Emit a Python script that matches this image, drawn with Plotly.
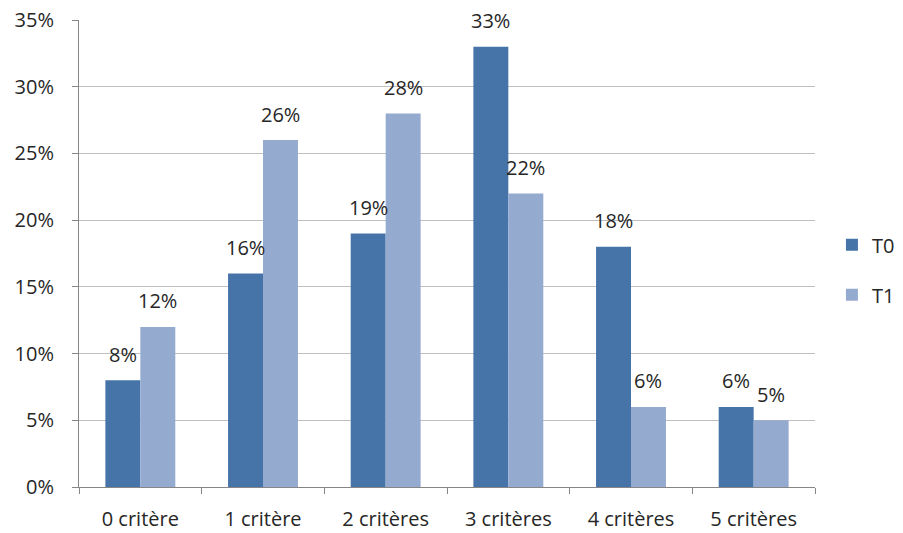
import plotly.graph_objects as go

categories = ["0 critère", "1 critère", "2 critères", "3 critères", "4 critères", "5 critères"]
t0_values = [8, 16, 19, 33, 18, 6]
t1_values = [12, 26, 28, 22, 6, 5]
y_ticks = [0, 5, 10, 15, 20, 25, 30, 35]
y_tick_labels = [f"{v}%" for v in y_ticks]

FONT = "Open Sans"
SIZE = 20
TEXT_COLOR = "#262626"
BARGAP = 0.43

fig = go.Figure()
fig.add_trace(go.Bar(
    name="T0", x=categories, y=t0_values,
    marker=dict(color="#4674A8", line=dict(width=0)),
    legendgroup="a",
))
fig.add_trace(go.Bar(
    name="T1", x=categories, y=t1_values,
    marker=dict(color="#95AACF", line=dict(width=0)),
    legendgroup="b",
))

# value labels floating above each bar
margin_l, margin_r = 79, 88
plot_w = 903 - margin_l - margin_r
bar_px = plot_w / len(categories) * (1 - BARGAP) / 2
for i, vals in enumerate([t0_values, t1_values]):
    for cat, v in zip(categories, vals):
        fig.add_annotation(
            x=cat, y=v, text=f"{v}%", showarrow=False,
            xshift=(i - 0.5) * bar_px, yshift=26, yanchor="middle",
            font=dict(family=FONT, size=SIZE, color=TEXT_COLOR),
        )

fig.update_layout(
    width=903, height=533,
    margin=dict(l=margin_l, r=margin_r, t=20, b=46, autoexpand=False),
    paper_bgcolor="white", plot_bgcolor="white",
    barmode="group", bargap=BARGAP, bargroupgap=0,
    font=dict(family=FONT, size=SIZE, color=TEXT_COLOR),
    showlegend=True,
    legend=dict(
        x=1.023, y=0.465, xanchor="left", yanchor="middle",
        tracegroupgap=21, traceorder="grouped",
        font=dict(family=FONT, size=SIZE, color=TEXT_COLOR),
        itemwidth=30,
    ),
)
fig.update_xaxes(
    showline=True, linecolor="#868686", linewidth=1,
    ticks="outside", tickson="boundaries", ticklen=6, tickcolor="#868686",
    showgrid=False, tickfont=dict(family=FONT, size=SIZE, color=TEXT_COLOR),
    ticklabelstandoff=14,
)
fig.update_yaxes(
    range=[0, 35], tickvals=y_ticks, ticktext=y_tick_labels,
    showline=True, linecolor="#868686", linewidth=1,
    ticks="outside", ticklen=6, tickcolor="#868686",
    showgrid=True, gridcolor="#BFBFBF", gridwidth=1,
    zeroline=False, tickfont=dict(family=FONT, size=SIZE, color=TEXT_COLOR),
    ticklabelstandoff=14,
)

fig.write_html("out.html")
